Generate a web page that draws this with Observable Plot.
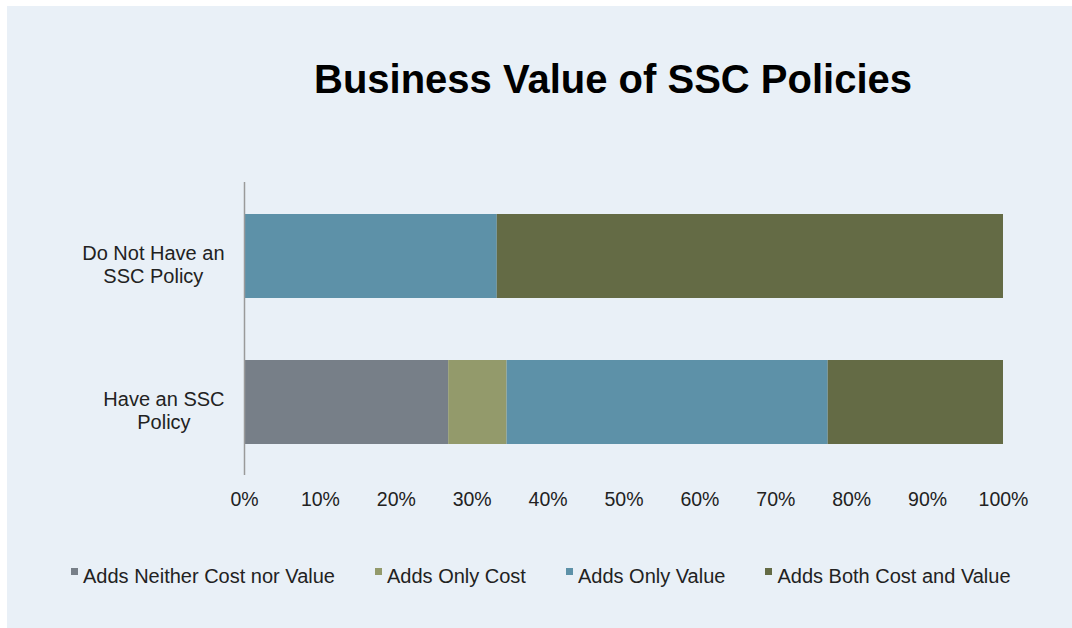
<!DOCTYPE html>
<html>
<head>
<meta charset="utf-8">
<script src="https://cdn.jsdelivr.net/npm/d3@7"></script>
<script src="https://cdn.jsdelivr.net/npm/@observablehq/plot@0.6"></script>
<style>
  html, body { margin: 0; padding: 0; background: #ffffff; }
  #panel { position: absolute; left: 7px; top: 6px; width: 1065px; height: 622px; background: #e9f0f7; overflow: hidden; font-family: "Liberation Sans", Arial, Helvetica, sans-serif; }
  #title { position: absolute; left: 606px; top: 53px; transform: translateX(-50%); font-size: 40px; font-weight: bold; line-height: 1; white-space: nowrap; color: #000; }
  #chart { position: absolute; left: 0; top: 0; }
  #legend { position: absolute; left: 64px; top: 560px; display: flex; gap: 40px; font-size: 20px; line-height: 20px; color: #222; white-space: nowrap; }
  .item { display: flex; align-items: center; }
  .sw { width: 7px; height: 7px; margin-right: 5px; transform: translateY(-5px); }
</style>
</head>
<body>
<div id="panel">
  <div id="title">Business Value of SSC Policies</div>
  <div id="chart"></div>
  <div id="legend"></div>
</div>
<script>
const categories = ["Do Not Have an SSC Policy", "Have an SSC Policy"];
const categoryLines = ["Do Not Have an\nSSC Policy", "Have an SSC\nPolicy"];
const series = ["Adds Neither Cost nor Value", "Adds Only Cost", "Adds Only Value", "Adds Both Cost and Value"];
const doNotHaveValues = [0, 0, 33.3, 66.7];
const haveValues = [26.9, 7.7, 42.3, 23.1];
const xTicks = [0, 0.1, 0.2, 0.3, 0.4, 0.5, 0.6, 0.7, 0.8, 0.9, 1];
const colors = ["#777f88", "#939a6b", "#5d91a8", "#646b45"];

const rows = [];
[doNotHaveValues, haveValues].forEach((vals, ci) => {
  vals.forEach((v, si) => rows.push({category: categories[ci], series: series[si], value: v / 100}));
});

const font = '20px "Liberation Sans", Arial, sans-serif';
const ctx = document.createElement("canvas").getContext("2d");
ctx.font = font;
function maxWidth(s) { return Math.max(...s.split("\n").map(l => ctx.measureText(l).width)); }

const labelMarks = categories.map((c, i) =>
  Plot.text([c], {
    y: d => d,
    text: () => categoryLines[i],
    frameAnchor: "left",
    textAnchor: "middle",
    lineAnchor: "middle",
    lineHeight: 1.15,
    dx: -(20 + maxWidth(categoryLines[i]) / 2),
    dy: 8,
    fontSize: 20,
    fill: "#222"
  })
);

const chart = Plot.plot({
  width: 1065,
  height: 540,
  marginLeft: 237,
  marginRight: 69,
  marginTop: 176,
  marginBottom: 71,
  style: {background: "transparent", fontFamily: '"Liberation Sans", Arial, sans-serif', fontSize: "19.5px", color: "#222"},
  x: {domain: [0, 1], ticks: xTicks, tickFormat: d3.format(".0%"), tickSize: 0, tickPadding: 17, label: null},
  y: {domain: categories, paddingInner: 0.427, paddingOuter: 0.213, axis: null},
  color: {domain: series, range: colors},
  marks: [
    Plot.barX(rows, Plot.stackX({y: "category", x: "value", fill: "series", order: series})),
    Plot.ruleX([0], {stroke: "#9a9a9a", strokeWidth: 1.5}),
    ...labelMarks
  ]
});
document.getElementById("chart").appendChild(chart);

const legend = document.getElementById("legend");
series.forEach((s, i) => {
  const item = document.createElement("div");
  item.className = "item";
  const sw = document.createElement("div");
  sw.className = "sw";
  sw.style.background = colors[i];
  const t = document.createElement("span");
  t.textContent = s;
  item.appendChild(sw);
  item.appendChild(t);
  legend.appendChild(item);
});
</script>
</body>
</html>
